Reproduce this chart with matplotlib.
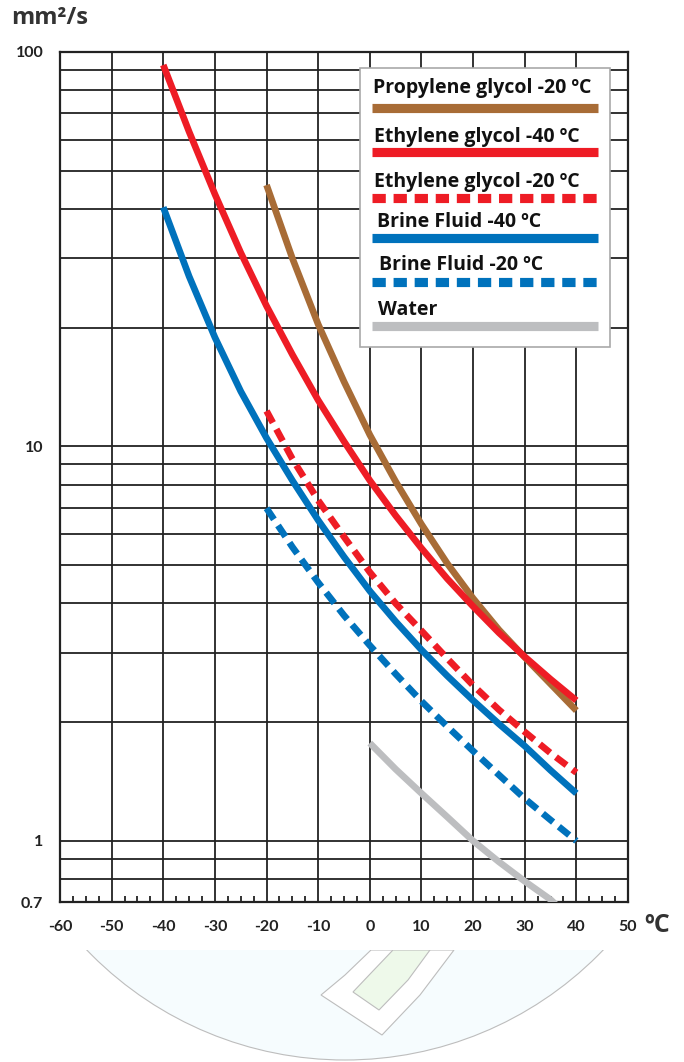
import matplotlib
matplotlib.use("Agg")
import matplotlib.pyplot as plt
from matplotlib.patches import Rectangle, Circle, Polygon
import numpy as np

# ---------------- data ----------------
x_pg20 = [-20, -15, -10, -5, 0, 5, 10, 15, 20, 25, 30, 35, 40]
y_pg20 = [46, 30, 20.4, 14.6, 10.7, 8.15, 6.35, 5.05, 4.12, 3.43, 2.92, 2.5, 2.14]

x_eg40 = [-40, -35, -30, -25, -20, -15, -10, -5, 0, 5, 10, 15, 20, 25, 30, 35, 40]
y_eg40 = [92.7, 62.8, 43.6, 31.0, 22.7, 17.1, 13.1, 10.3, 8.2, 6.68, 5.52, 4.62, 3.93, 3.37, 2.93, 2.57, 2.27]

x_eg20 = [-20, -15, -10, -5, 0, 5, 10, 15, 20, 25, 30, 35, 40]
y_eg20 = [12.3, 9.3, 7.3, 5.9, 4.8, 4.0, 3.41, 2.9, 2.48, 2.15, 1.89, 1.67, 1.49]

x_bf40 = [-40, -35, -30, -25, -20, -15, -10, -5, 0, 5, 10, 15, 20, 25, 30, 35, 40]
y_bf40 = [40.4, 27, 18.9, 13.8, 10.5, 8.2, 6.5, 5.25, 4.3, 3.6, 3.05, 2.62, 2.27, 1.98, 1.74, 1.51, 1.32]

x_bf20 = [-20, -15, -10, -5, 0, 5, 10, 15, 20, 25, 30, 35, 40]
y_bf20 = [6.97, 5.56, 4.52, 3.73, 3.13, 2.65, 2.26, 1.95, 1.69, 1.47, 1.28, 1.13, 1.0]

x_water = [0, 5, 10, 15, 20, 25, 30, 35, 36]
y_water = [1.77, 1.52, 1.32, 1.15, 1.0, 0.885, 0.79, 0.71, 0.69]

series_labels = ["Propylene glycol -20 \u00baC", "Ethylene glycol -40 \u00baC",
                 "Ethylene glycol -20 \u00baC", "Brine Fluid -40 \u00baC",
                 "Brine Fluid -20 \u00baC", "Water"]

x_ticks = [-60, -50, -40, -30, -20, -10, 0, 10, 20, 30, 40, 50]
x_ticklabels = ["-60", "-50", "-40", "-30", "-20", "-10", "0", "10", "20", "30", "40", "50"]
y_ticks = [0.7, 1, 10, 100]
y_ticklabels = ["0.7", "1", "10", "100"]
y_grid = [0.8, 0.9, 1, 2, 3, 4, 5, 6, 7, 8, 9, 10, 20, 30, 40, 50, 60, 70, 80, 90, 100]

# ---------------- style ----------------
BROWN = "#a86c36"
RED = "#ee1c25"
BLUE = "#0072bc"
GRAY = "#bdbec0"
GRID = "#222222"
TICKFONT = "Lato"

fig = plt.figure(figsize=(6.84, 10.62), dpi=100)
ax = fig.add_axes([60 / 684, 1 - 902 / 1062, 568 / 684, 850 / 1062])

ax.set_yscale("log")
ax.set_xlim(-60, 50)
ax.set_ylim(0.7, 100)

ax.set_xticks(x_ticks)
ax.set_xticklabels(x_ticklabels)
ax.set_xticks(np.arange(-60, 50.1, 2.5), minor=True)
ax.set_yticks(y_ticks)
ax.set_yticklabels(y_ticklabels)
ax.set_yticks([], minor=True)

for v in y_grid:
    ax.axhline(v, color=GRID, lw=1.3, zorder=1)
for v in x_ticks:
    ax.axvline(v, color=GRID, lw=1.3, zorder=1)

ax.tick_params(axis="both", which="major", length=0, pad=12, labelsize=11.5, colors="#222222")
ax.tick_params(axis="x", which="minor", direction="in", length=4, width=1.3, color=GRID,
               bottom=True, top=False)
ax.tick_params(axis="x", which="major", pad=13)
for lab in ax.get_xticklabels() + ax.get_yticklabels():
    lab.set_fontfamily(TICKFONT)
    lab.set_fontweight("bold")

for s in ax.spines.values():
    s.set_color(GRID)
    s.set_linewidth(1.6)

lw = 4.8
ax.plot(x_pg20, y_pg20, color=BROWN, lw=lw, solid_capstyle="butt", solid_joinstyle="round", zorder=3)
ax.plot(x_eg40, y_eg40, color=RED, lw=lw, solid_capstyle="butt", solid_joinstyle="round", zorder=4)
ax.plot(x_eg20, y_eg20, color=RED, lw=lw, dashes=(2.0, 1.1), dash_capstyle="butt", zorder=3)
ax.plot(x_bf40, y_bf40, color=BLUE, lw=lw, solid_capstyle="butt", solid_joinstyle="round", zorder=3)
ax.plot(x_bf20, y_bf20, color=BLUE, lw=lw, dashes=(2.0, 1.1), dash_capstyle="butt", zorder=3)
ax.plot(x_water, y_water, color=GRAY, lw=lw, solid_capstyle="butt", solid_joinstyle="round", zorder=3)

# ---------------- manual legend ----------------
def fx(px):
    return (px - 60) / 568.0

def fy(py):
    return (902 - py) / 850.0

ax.add_patch(Rectangle((fx(360), fy(347)), fx(610) - fx(360), fy(68) - fy(347),
                       transform=ax.transAxes, facecolor="white", edgecolor="#a9a9a9",
                       lw=1.2, zorder=10))
leg_colors = [BROWN, RED, RED, BLUE, BLUE, GRAY]
leg_dashed = [False, False, True, False, True, False]
leg_text_y = [88, 137, 182, 222, 265, 310]
leg_line_y = [108, 152, 198, 238, 282, 326]
leg_text_x = [373, 374, 374, 377, 379, 378]
for lab, c, d, ty, ly, tx in zip(series_labels, leg_colors, leg_dashed, leg_text_y, leg_line_y, leg_text_x):
    ax.text(fx(tx), fy(ty), lab, transform=ax.transAxes, ha="left", va="center",
            fontsize=14, fontfamily="Open Sans", fontweight="bold", color="#111111", zorder=11)
    kw = dict(dashes=(1.45, 0.85), dash_capstyle="butt") if d else dict(solid_capstyle="butt")
    ax.plot([fx(372), fx(598)], [fy(ly), fy(ly)], transform=ax.transAxes, color=c,
            lw=6.6, zorder=11, clip_on=False, **kw)

# ---------------- axis titles ----------------
fig.text(11 / 684, 1 - 18 / 1062, "mm\u00b2/s", ha="left", va="center", fontsize=17,
         fontfamily="Open Sans", fontweight="bold", color="#333333")
fig.text(644 / 684, 1 - 926 / 1062, "\u00baC", ha="left", va="center", fontsize=18,
         fontfamily="Open Sans", fontweight="bold", color="#333333")

# ---------------- faint watermark below the chart ----------------
wm = fig.add_axes([0, 0, 1, 1], zorder=-1)
wm.set_xlim(0, 684)
wm.set_ylim(1062, 0)
wm.axis("off")
clip = Rectangle((0, 950), 684, 120, transform=wm.transData)
circ = Circle((345, 702), 358, facecolor="#f6fcfe", edgecolor="#bdbdbd", lw=0.8)
wm.add_patch(circ)
circ.set_clip_path(clip)
outer = Polygon([(371, 950), (345, 975), (321, 995), (382, 1035), (420, 995), (454, 950)],
                closed=True, facecolor="white", edgecolor="#bdbdbd", lw=0.8)
wm.add_patch(outer)
outer.set_clip_path(clip)
inner = Polygon([(393, 950), (372, 972), (353, 992), (379, 1010), (408, 980), (430, 950)],
                closed=True, facecolor="#eef9ea", edgecolor="#bdbdbd", lw=0.8)
wm.add_patch(inner)
inner.set_clip_path(clip)

fig.savefig("out.png", dpi=100)
